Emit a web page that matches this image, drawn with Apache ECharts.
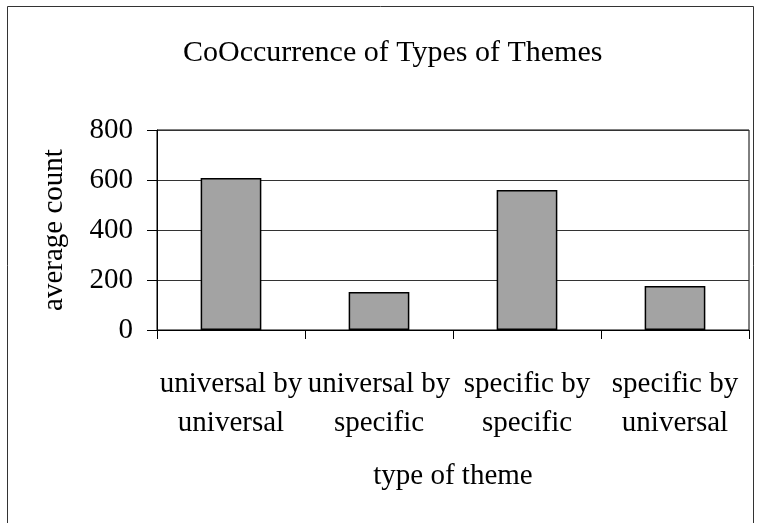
<!DOCTYPE html>
<html>
<head>
<meta charset="utf-8">
<script src="https://cdn.jsdelivr.net/npm/echarts@6/dist/echarts.min.js"></script>
<style>
  html, body { margin: 0; padding: 0; background: #fff; }
  #chart { width: 757px; height: 523px; }
</style>
</head>
<body>
<div id="chart"></div>
<script>
// Theme co-occurrence averages
const categories = [
  'universal by\nuniversal',
  'universal by\nspecific',
  'specific by\nspecific',
  'specific by\nuniversal'
];
const averageCounts = [608, 152, 560, 176];
const yTicks = { min: 0, max: 800, interval: 200 };

const serif = '"Liberation Serif", "DejaVu Serif", serif';

const chart = echarts.init(document.getElementById('chart'), null, { renderer: 'canvas' });

chart.setOption({
  backgroundColor: '#fff',
  animation: false,
  title: {
    text: 'CoOccurrence of Types of Themes',
    left: 178,
    top: 33,
    textStyle: { fontFamily: serif, fontSize: 30, fontWeight: 'normal', color: '#000' }
  },
  graphic: [{
    type: 'rect',
    shape: { x: 7.5, y: 6.5, width: 746, height: 530 },
    style: { fill: 'none', stroke: '#333', lineWidth: 1 },
    silent: true
  }],
  grid: {
    left: 157, right: 8, top: 130, bottom: 193, containLabel: false,
    show: true, borderColor: '#000', borderWidth: 1, backgroundColor: 'transparent'
  },
  xAxis: {
    type: 'category',
    data: categories,
    name: 'type of theme',
    nameLocation: 'middle',
    nameGap: 132,
    nameTextStyle: { fontFamily: serif, fontSize: 29, color: '#000' },
    axisLine: { lineStyle: { color: '#000', width: 1 } },
    axisTick: { show: true, length: 9, lineStyle: { color: '#000' } },
    axisLabel: {
      fontFamily: serif, fontSize: 29, color: '#000',
      margin: 35, lineHeight: 39, interval: 0
    },
    splitLine: { show: false }
  },
  yAxis: {
    type: 'value',
    min: yTicks.min,
    max: yTicks.max,
    interval: yTicks.interval,
    name: 'average count',
    nameLocation: 'middle',
    nameGap: 88,
    nameRotate: 90,
    nameTextStyle: { fontFamily: serif, fontSize: 29, color: '#000' },
    axisLine: { show: true, lineStyle: { color: '#000', width: 1 } },
    axisTick: { show: true, length: 10, lineStyle: { color: '#000' } },
    axisLabel: { fontFamily: serif, fontSize: 29, color: '#000', margin: 24 },
    splitLine: { show: true, lineStyle: { color: '#333', width: 1 } }
  },
  series: [{
    type: 'bar',
    data: averageCounts,
    barWidth: '41%',
    itemStyle: { color: '#a3a3a3', borderColor: '#000', borderWidth: 1.5 }
  }]
});
</script>
</body>
</html>
